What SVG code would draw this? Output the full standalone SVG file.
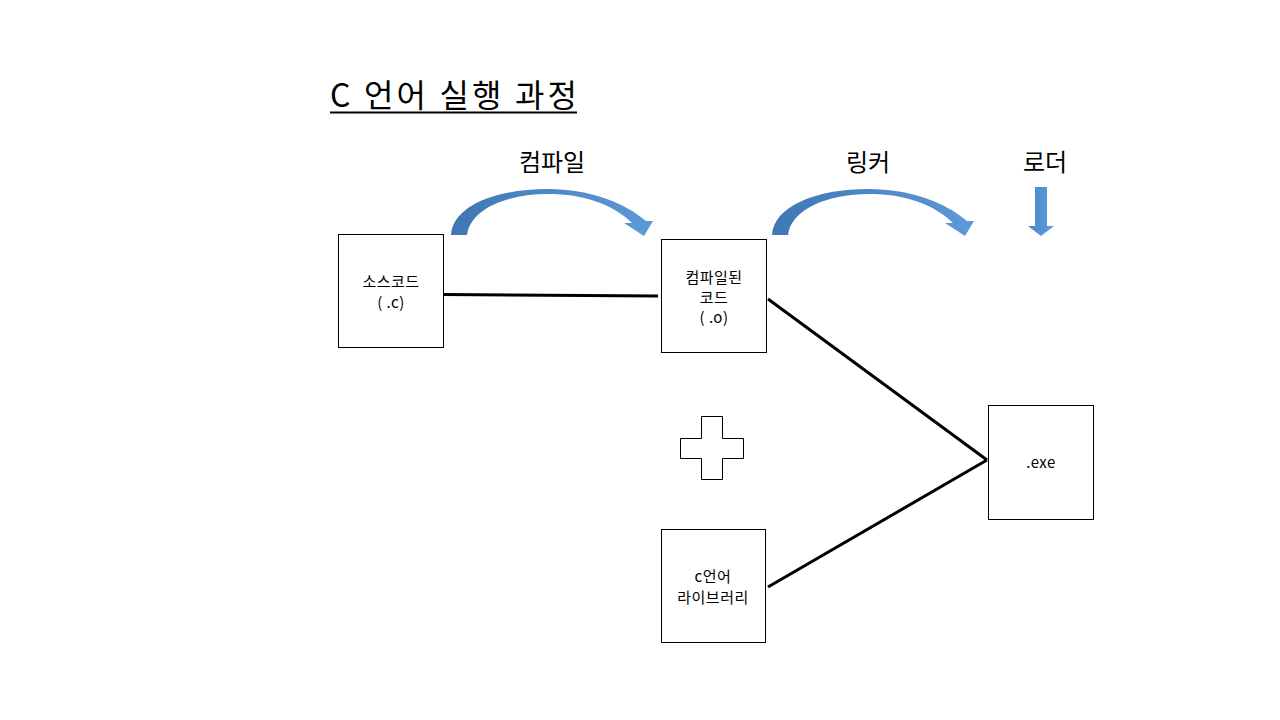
<svg xmlns="http://www.w3.org/2000/svg" width="1280" height="720" viewBox="0 0 1280 720">
<defs>
<linearGradient id="blu" x1="0" y1="0" x2="1" y2="0">
<stop offset="0" stop-color="#3f76b4"/>
<stop offset="0.5" stop-color="#4f88c6"/>
<stop offset="1" stop-color="#5c9ad8"/>
</linearGradient>
<linearGradient id="blv" x1="0" y1="0" x2="1" y2="0">
<stop offset="0" stop-color="#4a86c8"/>
<stop offset="1" stop-color="#5f9ddb"/>
</linearGradient>
</defs>
<style>
text{font-family:"Noto Sans CJK KR","Noto Sans",sans-serif;fill:#000}
.box{fill:#fff;stroke:#000;stroke-width:1}
.lbl{font-size:15px;text-anchor:middle;letter-spacing:0.5px}
.hd{font-size:24px;text-anchor:middle}
.conn{stroke:#000;stroke-width:3;fill:none}
</style>
<rect width="1280" height="720" fill="#fff"/>
<g id="title">
<text x="330" y="107" style="font-size:32px" textLength="247" lengthAdjust="spacing">C 언어 실행 과정</text>
<line x1="330" y1="112.5" x2="577" y2="112.5" stroke="#000" stroke-width="2"/>
</g>
<g id="labels">
<text class="hd" x="552" y="171">컴파일</text>
<text class="hd" x="868" y="171">링커</text>
<text class="hd" x="1045" y="171">로더</text>
</g>
<g id="arrows">
<path id="arc1" d="M451,235 C453,206 495,189 548,189 C590,189 625,203 646,221 L653,221 L644,236 L624,223 L632,223 C612,204 584,194 548,194 C505,194 470,210 467,235 Z" fill="url(#blu)"/>
<path id="arc2" transform="translate(321,0)" d="M451,235 C453,206 495,189 548,189 C590,189 625,203 646,221 L653,221 L644,236 L624,223 L632,223 C612,204 584,194 548,194 C505,194 470,210 467,235 Z" fill="url(#blu)"/>
<path id="down" d="M1035,187 L1047,187 L1047,226 L1054,226 L1041,236 L1028,226 L1035,226 Z" fill="url(#blv)"/>
</g>
<g id="connectors">
<line class="conn" x1="443" y1="294.5" x2="658" y2="296"/>
<line class="conn" x1="768" y1="299" x2="987" y2="460"/>
<line class="conn" x1="768" y1="587" x2="987" y2="460"/>
</g>
<g id="source">
<rect class="box" x="338.5" y="234.5" width="105" height="113"/>
<text class="lbl" x="391" y="287">소스코드</text>
<text class="lbl" x="391" y="308">( .c)</text>
</g>
<g id="compiled">
<rect class="box" x="661.5" y="239.5" width="105" height="113"/>
<text class="lbl" x="714" y="283">컴파일된</text>
<text class="lbl" x="714" y="303">코드</text>
<text class="lbl" x="714" y="323">( .o)</text>
</g>
<g id="plus">
<path d="M701.5,416.5 L722.5,416.5 L722.5,438.5 L743.5,438.5 L743.5,458.5 L722.5,458.5 L722.5,479.5 L701.5,479.5 L701.5,458.5 L680.5,458.5 L680.5,438.5 L701.5,438.5 Z" fill="#fff" stroke="#000" stroke-width="1"/>
</g>
<g id="library">
<rect class="box" x="661.5" y="529.5" width="104" height="113"/>
<text class="lbl" x="713" y="582">c언어</text>
<text class="lbl" x="713" y="603">라이브러리</text>
</g>
<g id="exe">
<rect class="box" x="988.5" y="405.5" width="105" height="114"/>
<text class="lbl" x="1041" y="468">.exe</text>
</g>
</svg>
